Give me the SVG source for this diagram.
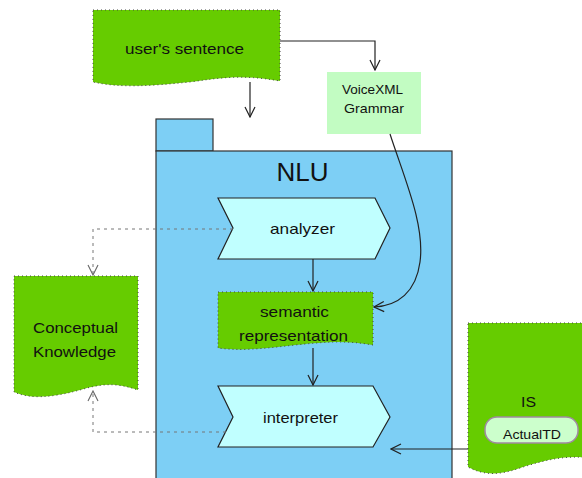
<svg xmlns="http://www.w3.org/2000/svg" width="582" height="478" viewBox="0 0 582 478">
<style>
.t{font-family:"Liberation Sans",Arial,sans-serif;font-size:15px;fill:#111;text-anchor:middle}
.s{font-family:"Liberation Sans",Arial,sans-serif;font-size:13px;fill:#111;text-anchor:middle}
.doc{fill:#66cc00;stroke:#444;stroke-width:1;stroke-dasharray:1 3}
.chev{fill:#c0ffff;stroke:#222;stroke-width:1.2}
.ln{fill:none;stroke:#222;stroke-width:1.2}
.dl{fill:none;stroke:#777;stroke-width:1;stroke-dasharray:3 4}
</style>
<defs>
<marker id="a" viewBox="-11 -6 12 12" markerWidth="12" markerHeight="12" refX="0" refY="0" orient="auto" markerUnits="userSpaceOnUse">
<path d="M-10,-5 L0,0 L-10,5" fill="none" stroke="#222" stroke-width="1.2"/>
</marker>
<marker id="g" viewBox="-11 -6 12 12" markerWidth="12" markerHeight="12" refX="0" refY="0" orient="auto" markerUnits="userSpaceOnUse">
<path d="M-10,-5 L0,0 L-10,5" fill="none" stroke="#666" stroke-width="1.1"/>
</marker>
</defs>
<rect width="582" height="478" fill="#fff"/>
<g id="nlu">
<rect x="156" y="119" width="57" height="32" fill="#7dcff5" stroke="#333" stroke-width="1.2"/>
<rect x="156" y="151" width="296" height="340" fill="#7dcff5" stroke="#333" stroke-width="1.2"/>
<text x="302.5" y="181" style="font-family:'Liberation Sans',Arial,sans-serif;font-size:26px;fill:#111;text-anchor:middle">NLU</text>
</g>
<g id="users-sentence">
<path class="doc" d="M93,10 H280 V81 C240,74 220,78 190,82 C150,86 120,88 93,82 Z"/>
<text class="t" x="184.5" y="54" textLength="119" lengthAdjust="spacingAndGlyphs">user's sentence</text>
</g>
<g id="voicexml-grammar">
<rect x="327" y="72" width="94" height="62" fill="#c2fcc2"/>
<text class="s" x="372.5" y="94" textLength="61" lengthAdjust="spacingAndGlyphs">VoiceXML</text>
<text class="s" x="374" y="113" textLength="60" lengthAdjust="spacingAndGlyphs">Grammar</text>
</g>
<g id="analyzer">
<path class="chev" d="M218,198 H375 L390,228 L375,259 H218 L233,228 Z"/>
<text class="t" x="302.5" y="234" textLength="65" lengthAdjust="spacingAndGlyphs">analyzer</text>
</g>
<g id="semantic-representation">
<path class="doc" d="M218,292 H373 V345 C345,340 325,342 295,345 C260,349 240,351 218,348 Z"/>
<text class="t" x="294.5" y="317" textLength="69" lengthAdjust="spacingAndGlyphs">semantic</text>
<text class="t" x="293.5" y="341" textLength="109" lengthAdjust="spacingAndGlyphs">representation</text>
</g>
<g id="interpreter">
<path class="chev" d="M218,386 H373 L390,417 L373,447 H218 L233,417 Z"/>
<text class="t" x="300.5" y="423" textLength="75" lengthAdjust="spacingAndGlyphs">interpreter</text>
</g>
<g id="conceptual-knowledge">
<path class="doc" d="M14,276 H138 V390 C115,382 100,384 80,390 C50,398 30,399 14,392 Z"/>
<text class="t" x="75.5" y="333" textLength="85" lengthAdjust="spacingAndGlyphs">Conceptual</text>
<text class="t" x="74.5" y="357" textLength="83" lengthAdjust="spacingAndGlyphs">Knowledge</text>
</g>
<g id="is">
<path class="doc" d="M468,323 H590 V458 C565,455 545,460 520,468 C500,475 485,476 468,467 Z"/>
<text class="t" x="528.5" y="407" textLength="15" lengthAdjust="spacingAndGlyphs">IS</text>
<rect x="485" y="417" width="93" height="26" rx="12" ry="12" fill="#ccffcc" stroke="#a08aa0" stroke-width="1.5"/>
<text class="s" x="532" y="439" textLength="58" lengthAdjust="spacingAndGlyphs">ActualTD</text>
</g>
<g id="connectors">
<path class="ln" d="M280,41 H375 V70" marker-end="url(#a)"/>
<path class="ln" d="M250,82 V117" marker-end="url(#a)"/>
<path class="ln" d="M390,134 C405,180 425,225 420,262 C416,292 398,306 374,307" marker-end="url(#a)"/>
<path class="ln" d="M313,259 V291" marker-end="url(#a)"/>
<path class="ln" d="M313,348 V385" marker-end="url(#a)"/>
<path class="ln" d="M468,449 H391" marker-end="url(#a)"/>
<path class="dl" d="M233,229 H93 V275" marker-end="url(#g)"/>
<path class="dl" d="M226,432 H93 V391" marker-end="url(#g)"/>
</g>
</svg>
